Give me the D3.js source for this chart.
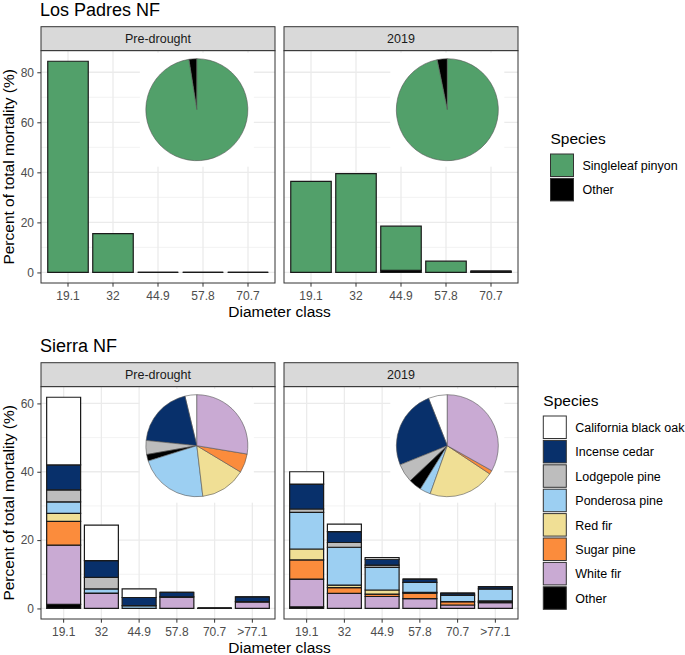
<!DOCTYPE html>
<html>
<head>
<meta charset="utf-8">
<script src="https://cdn.jsdelivr.net/npm/d3@7/dist/d3.min.js"></script>
<style>
  body { margin: 0; background: #fff; }
  svg { font-family: "Liberation Sans", Arial, sans-serif; }
</style>
</head>
<body>
<div id="chart"></div>
<script>
// ---- data ----
const periods = ["Pre-drought", "2019"];

// Los Padres NF
const lpClasses = ["19.1", "32", "44.9", "57.8", "70.7"];
const lpSpecies = ["Singleleaf pinyon", "Other"];
const lpColors = ["#52a06a", "#000000"];
const lpPinyonPre = [84.4, 15.5, 0, 0, 0];
const lpOtherPre = [0, 0, 0, 0, 0];
const lpPinyon2019 = [36.4, 39.5, 17.7, 4.5, 0];
const lpOther2019 = [0, 0, 0.8, 0, 0.5];
// pie shares, alphabetical order
const lpPieOrder = ["Other", "Singleleaf pinyon"];
const lpPiePre = [2.5, 97.5];
const lpPie2019 = [3.2, 96.8];

// Sierra NF
const sierraClasses = ["19.1", "32", "44.9", "57.8", "70.7", ">77.1"];
const sierraSpecies = ["California black oak", "Incense cedar", "Lodgepole pine", "Ponderosa pine",
                       "Red fir", "Sugar pine", "White fir", "Other"];
const sierraColors = ["#ffffff", "#08306b", "#bdbdbd", "#9ccff2", "#f0df95", "#fb8c3c", "#c9aad3", "#000000"];
// rows follow sierraSpecies, columns follow sierraClasses
const sierraPre = [
  [19.8, 10.4, 2.5, 0, 0, 0],
  [7.3, 4.9, 2.4, 1.3, 0, 1.4],
  [3.5, 3.4, 0, 0, 0, 0],
  [3.4, 1.2, 0.8, 0, 0, 0],
  [2.3, 0, 0, 0, 0, 0],
  [7.0, 0, 0, 0, 0, 0],
  [17.3, 4.5, 0, 3.4, 0, 2.0],
  [1.2, 0, 0, 0, 0, 0]
];
const sierra2019 = [
  [3.6, 2.2, 0.5, 0, 0, 0],
  [7.3, 3.2, 1.7, 1.0, 0.6, 0.7],
  [1.0, 1.4, 0.7, 0, 0, 0],
  [10.7, 11.1, 6.6, 2.9, 1.9, 3.5],
  [3.2, 0.7, 1.2, 0.2, 0, 0.3],
  [5.6, 1.7, 0.7, 1.6, 1.0, 0.2],
  [8.1, 4.4, 3.5, 2.9, 1.0, 1.7],
  [0.5, 0, 0, 0, 0, 0]
];
const sierraPieOrder = ["California black oak", "Incense cedar", "Lodgepole pine", "Other",
                        "Ponderosa pine", "Red fir", "Sugar pine", "White fir"];
const sierraPiePre = [3.75, 19.6, 4.4, 2.1, 22.0, 14.5, 6.0, 27.6];
const sierraPie2019 = [6.0, 25.1, 5.9, 4.1, 3.4, 21.1, 1.2, 33.1];

// ---- layout ----
const W = 685, H = 655;
const panelX = [41, 284], panelW = 234;
const stripTop = 26.7, stripH = 24, panelTop = 50.7, panelBottom = 283;
const pieCx = [0.666, 0.698], pieCy = 59, pieR = 51;

const svg = d3.select("#chart").append("svg")
    .attr("width", W)
    .attr("height", H);

function makeRows(classes, species, columns) {
  return classes.map((c, i) => {
    let row = { cls: c };
    species.forEach((s, j) => row[s] = columns[j][i]);
    return row;
  });
}

function drawSite(site) {
  let g = svg.append("g").attr("transform", "translate(0," + site.offset + ")");

  g.append("text")
      .attr("x", 40).attr("y", 15.5)
      .style("font-size", "18px")
      .style("fill", "#000")
      .text(site.title);

  let totals = site.panels.flatMap(p => p.rows.map(r => d3.sum(site.species, s => r[s])));
  let yMax = d3.max(totals);

  let y = d3.scaleLinear()
      .domain([-0.05 * yMax, 1.05 * yMax])
      .range([panelBottom, panelTop]);

  let x = d3.scaleBand()
      .domain(site.classes)
      .range([0, panelW])
      .paddingInner(0.1)
      .paddingOuter(0.15);

  let color = d3.scaleOrdinal().domain(site.species).range(site.colors);

  let majors = y.ticks(4);
  let step = majors[1] - majors[0];
  let minors = d3.range(majors[0] - step / 2, y.domain()[1], step)
      .filter(v => v > y.domain()[0]);

  let stack = d3.stack().keys(site.species.slice().reverse());

  let pie = d3.pie().sort(null).startAngle(0).endAngle(-2 * Math.PI);
  let arc = d3.arc().innerRadius(0).outerRadius(pieR);

  site.panels.forEach((p, k) => {
    let pg = g.append("g").attr("transform", "translate(" + panelX[k] + ",0)");
    let clipId = "clip-" + site.key + k;

    pg.append("clipPath").attr("id", clipId)
      .append("rect")
        .attr("x", 0).attr("y", panelTop)
        .attr("width", panelW).attr("height", panelBottom - panelTop);

    // strip
    pg.append("rect")
        .attr("x", 0).attr("y", stripTop)
        .attr("width", panelW).attr("height", stripH)
        .attr("fill", "#d9d9d9")
        .attr("stroke", "#333")
        .attr("stroke-width", 1);

    pg.append("text")
        .attr("x", panelW / 2).attr("y", stripTop + stripH / 2 + 4.4)
        .attr("text-anchor", "middle")
        .style("font-size", "12.5px")
        .style("fill", "#1a1a1a")
        .text(periods[k]);

    let inner = pg.append("g").attr("clip-path", "url(#" + clipId + ")");

    inner.append("rect")
        .attr("x", 0).attr("y", panelTop)
        .attr("width", panelW).attr("height", panelBottom - panelTop)
        .attr("fill", "#fff");

    // grid
    inner.selectAll(".minor").data(minors).enter().append("line")
        .attr("x1", 0).attr("x2", panelW)
        .attr("y1", d => y(d)).attr("y2", d => y(d))
        .attr("stroke", "#f0f0f0").attr("stroke-width", 0.8);

    inner.selectAll(".major").data(majors).enter().append("line")
        .attr("x1", 0).attr("x2", panelW)
        .attr("y1", d => y(d)).attr("y2", d => y(d))
        .attr("stroke", "#ebebeb").attr("stroke-width", 1.3);

    inner.selectAll(".vgrid").data(site.classes).enter().append("line")
        .attr("x1", d => x(d) + x.bandwidth() / 2).attr("x2", d => x(d) + x.bandwidth() / 2)
        .attr("y1", panelTop).attr("y2", panelBottom)
        .attr("stroke", "#ebebeb").attr("stroke-width", 1.3);

    // stacked bars, drawn as paths so zero-height segments still show their outline
    let series = stack(p.rows);
    series.forEach(layer => {
      inner.selectAll(null).data(layer).enter().append("path")
          .attr("d", d => {
            let x0 = x(d.data.cls), w = x.bandwidth();
            let y0 = y(d[0]), y1 = y(d[1]);
            return "M" + x0 + "," + y0 + "H" + (x0 + w) + "V" + y1 + "H" + x0 + "Z";
          })
          .attr("fill", color(layer.key))
          .attr("stroke", "#1a1a1a")
          .attr("stroke-width", 1.2);
    });

    // pie inset
    let cx = pieCx[k] * panelW, cy = panelTop + pieCy;
    inner.append("rect")
        .attr("x", cx - pieR - 6).attr("y", cy - pieR - 6)
        .attr("width", 2 * pieR + 12).attr("height", 2 * pieR + 12)
        .attr("fill", "#fff");

    let pieData = p.pie.map((v, i) => ({ species: site.pieOrder[i], value: v }));
    inner.append("g")
        .attr("transform", "translate(" + cx + "," + cy + ")")
      .selectAll("path")
      .data(pie.value(d => d.value)(pieData))
      .enter().append("path")
        .attr("d", arc)
        .attr("fill", d => color(d.data.species))
        .attr("stroke", "#555")
        .attr("stroke-width", 0.6);

    // panel border
    pg.append("rect")
        .attr("x", 0).attr("y", panelTop)
        .attr("width", panelW).attr("height", panelBottom - panelTop)
        .attr("fill", "none")
        .attr("stroke", "#333")
        .attr("stroke-width", 1);

    // x axis
    let xAxis = pg.append("g")
        .attr("transform", "translate(0," + panelBottom + ")")
        .call(d3.axisBottom(x).tickSize(3.7).tickPadding(4.3));
    xAxis.select(".domain").remove();
    xAxis.selectAll("line").attr("stroke", "#333");
    xAxis.selectAll("text")
        .style("font-size", "12px")
        .style("font-family", "Liberation Sans, Arial, sans-serif")
        .attr("fill", "#4d4d4d");

    if (k === 0) {
      let yAxis = pg.append("g")
          .call(d3.axisLeft(y).tickValues(majors).tickSize(3.7).tickPadding(3.3));
      yAxis.select(".domain").remove();
      yAxis.selectAll("line").attr("stroke", "#333");
      yAxis.selectAll("text")
          .style("font-size", "12px")
          .style("font-family", "Liberation Sans, Arial, sans-serif")
          .attr("fill", "#4d4d4d");
    }
  });

  // axis titles
  g.append("text")
      .attr("x", (panelX[0] + panelX[1] + panelW) / 2).attr("y", 317)
      .attr("text-anchor", "middle")
      .style("font-size", "15.5px")
      .text("Diameter class");

  g.append("text")
      .attr("transform", "translate(14," + (panelTop + panelBottom) / 2 + ") rotate(-90)")
      .attr("text-anchor", "middle")
      .style("font-size", "15.5px")
      .text("Percent of total mortality (%)");

  // legend
  let lg = g.append("g").attr("transform", "translate(" + site.legendX + "," + site.legendY + ")");
  lg.append("text")
      .attr("x", 0).attr("y", 0)
      .style("font-size", "15.5px")
      .text("Species");

  site.species.forEach((s, i) => {
    let ky = 10 + i * 24.4;
    lg.append("rect")
        .attr("x", 0).attr("y", ky)
        .attr("width", 23).attr("height", 22.5)
        .attr("fill", color(s))
        .attr("stroke", "#333")
        .attr("stroke-width", 1);
    lg.append("text")
        .attr("x", 32).attr("y", ky + 11.5 + 4.4)
        .style("font-size", "12.5px")
        .text(s);
  });
}

drawSite({
  key: "lp",
  title: "Los Padres NF",
  offset: 0,
  classes: lpClasses,
  species: lpSpecies,
  colors: lpColors,
  pieOrder: lpPieOrder,
  legendX: 550.5,
  legendY: 144,
  panels: [
    { rows: makeRows(lpClasses, lpSpecies, [lpPinyonPre, lpOtherPre]), pie: lpPiePre },
    { rows: makeRows(lpClasses, lpSpecies, [lpPinyon2019, lpOther2019]), pie: lpPie2019 }
  ]
});

drawSite({
  key: "sierra",
  title: "Sierra NF",
  offset: 336,
  classes: sierraClasses,
  species: sierraSpecies,
  colors: sierraColors,
  pieOrder: sierraPieOrder,
  legendX: 543.3,
  legendY: 70,
  panels: [
    { rows: makeRows(sierraClasses, sierraSpecies, sierraPre), pie: sierraPiePre },
    { rows: makeRows(sierraClasses, sierraSpecies, sierra2019), pie: sierraPie2019 }
  ]
});
</script>
</body>
</html>
